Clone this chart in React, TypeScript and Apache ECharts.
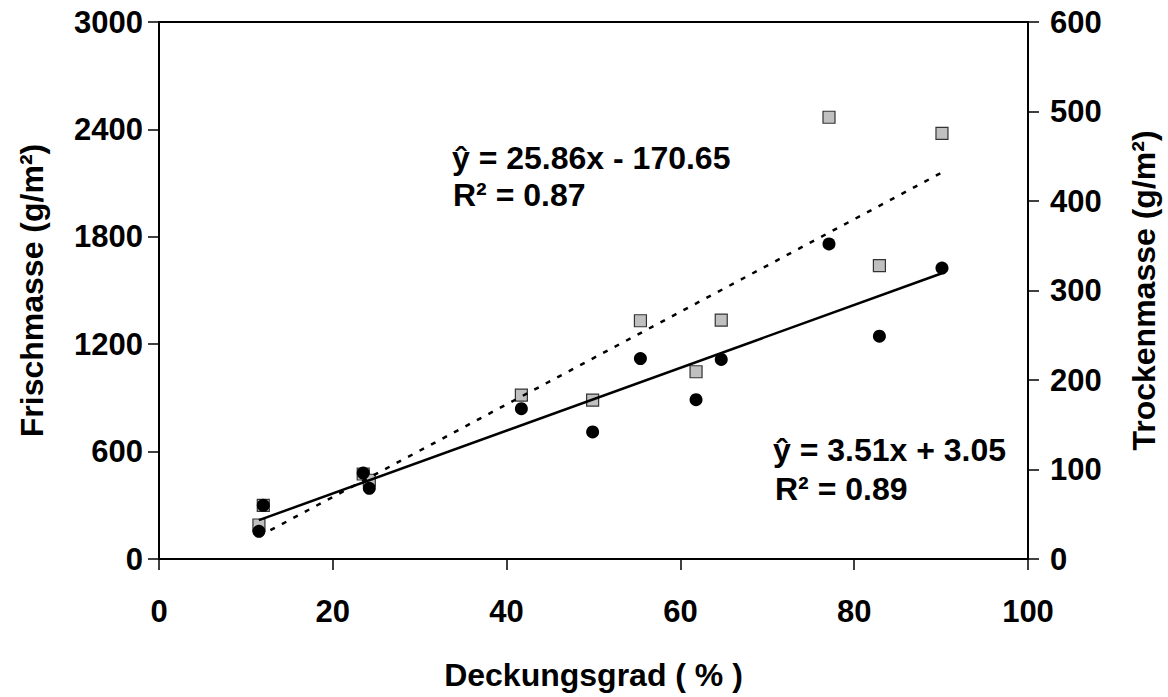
import React, { useEffect, useRef } from "react";
import * as echarts from "echarts";

// Deckungsgrad (%) of each plot
const coverage = [11.5, 12.0, 23.5, 24.2, 41.7, 49.9, 55.4, 61.8, 64.7, 77.1, 82.9, 90.1];
// Frischmasse (g/m²), left axis, grey squares
const freshMass = [190, 300, 475, 440, 916, 888, 1331, 1046, 1335, 2468, 1639, 2378];
// Trockenmasse (g/m²), right axis, black circles
const dryMass = [31, 60, 96, 79, 168, 142, 224, 178, 223, 352, 249, 325];

// regression coefficients as printed on the chart
const freshSlope = 25.86;
const freshIntercept = -170.65;
const drySlope = 3.51;
const dryIntercept = 3.05;

const freshEquation = "ŷ = 25.86x - 170.65";
const freshR2 = "R² = 0.87";
const dryEquation = "ŷ = 3.51x + 3.05";
const dryR2 = "R² = 0.89";

const xTicks = { min: 0, max: 100, interval: 20 };
const leftTicks = { min: 0, max: 3000, interval: 600 };
const rightTicks = { min: 0, max: 600, interval: 100 };

const FONT = "'Liberation Sans', Arial, Helvetica, sans-serif";

export default function App() {
  const ref = useRef<HTMLDivElement>(null);

  useEffect(() => {
    if (!ref.current) return;
    const chart = echarts.init(ref.current, null, { renderer: "svg" });

    const xMin = Math.min(...coverage);
    const xMax = Math.max(...coverage);
    const freshTrend = [
      [xMin, freshSlope * xMin + freshIntercept],
      [xMax, freshSlope * xMax + freshIntercept],
    ];
    const dryTrend = [
      [xMin, drySlope * xMin + dryIntercept],
      [xMax, drySlope * xMax + dryIntercept],
    ];

    const labelStyle = {
      fontSize: 31,
      fontWeight: "bold",
      color: "#000",
      fontFamily: FONT,
      formatter: (v: number) => String(v),
    };
    const nameStyle = { fontSize: 32, fontWeight: "bold", color: "#000", fontFamily: FONT };
    const axisLine = { show: true, onZero: false, lineStyle: { color: "#000", width: 2 } };
    const axisTick = { show: true, inside: false, length: 11, lineStyle: { color: "#000", width: 1.5 } };

    const eqText = (text: string, x: number, y: number) => ({
      type: "text",
      x,
      y,
      style: {
        text,
        fontSize: 32,
        fontWeight: "bold",
        fontFamily: FONT,
        fill: "#000",
        textAlign: "left",
        textVerticalAlign: "middle",
      },
      z: 100,
    });

    chart.setOption({
      animation: false,
      grid: {
        left: 159,
        right: 140,
        top: 22,
        bottom: 138,
        show: true,
        borderColor: "#000",
        borderWidth: 2,
      },
      xAxis: {
        type: "value",
        ...xTicks,
        axisLine,
        axisTick,
        splitLine: { show: false },
        axisLabel: { ...labelStyle, margin: 37 },
        name: "Deckungsgrad ( % )",
        nameLocation: "middle",
        nameGap: 100,
        nameTextStyle: nameStyle,
      },
      yAxis: [
        {
          type: "value",
          position: "left",
          ...leftTicks,
          axisLine,
          axisTick,
          splitLine: { show: false },
          axisLabel: { ...labelStyle, margin: 16 },
          name: "Frischmasse (g/m²)",
          nameLocation: "middle",
          nameRotate: 90,
          nameGap: 111,
          nameTextStyle: nameStyle,
        },
        {
          type: "value",
          position: "right",
          ...rightTicks,
          axisLine,
          axisTick,
          splitLine: { show: false },
          axisLabel: { ...labelStyle, margin: 22 },
          name: "Trockenmasse (g/m²)",
          nameLocation: "middle",
          nameRotate: 90,
          nameGap: 100,
          nameTextStyle: nameStyle,
        },
      ],
      series: [
        {
          name: "Frischmasse",
          type: "scatter",
          yAxisIndex: 0,
          symbol: "rect",
          symbolSize: 12,
          itemStyle: { color: "#c0c0c0", borderColor: "#333", borderWidth: 1.2, opacity: 1 },
          data: coverage.map((x, i) => [x, freshMass[i]]),
          z: 2,
        },
        {
          name: "Trend Frischmasse",
          type: "line",
          yAxisIndex: 0,
          showSymbol: false,
          symbol: "none",
          lineStyle: { color: "#000", width: 2.5, type: [5, 8] },
          data: freshTrend,
          z: 3,
        },
        {
          name: "Trend Trockenmasse",
          type: "line",
          yAxisIndex: 1,
          showSymbol: false,
          symbol: "none",
          lineStyle: { color: "#000", width: 2.5, type: "solid" },
          data: dryTrend,
          z: 3,
        },
        {
          name: "Trockenmasse",
          type: "scatter",
          yAxisIndex: 1,
          symbol: "circle",
          symbolSize: 13,
          itemStyle: { color: "#000", opacity: 1 },
          data: coverage.map((x, i) => [x, dryMass[i]]),
          z: 4,
        },
      ],
      graphic: [
        eqText(freshEquation, 452, 158),
        eqText(freshR2, 453, 195),
        eqText(dryEquation, 773, 450),
        eqText(dryR2, 775, 489),
      ],
    });

    return () => chart.dispose();
  }, []);

  return (
    <div
      ref={ref}
      style={{ position: "fixed", left: 0, top: 0, width: 1168, height: 697, background: "#fff" }}
    />
  );
}
